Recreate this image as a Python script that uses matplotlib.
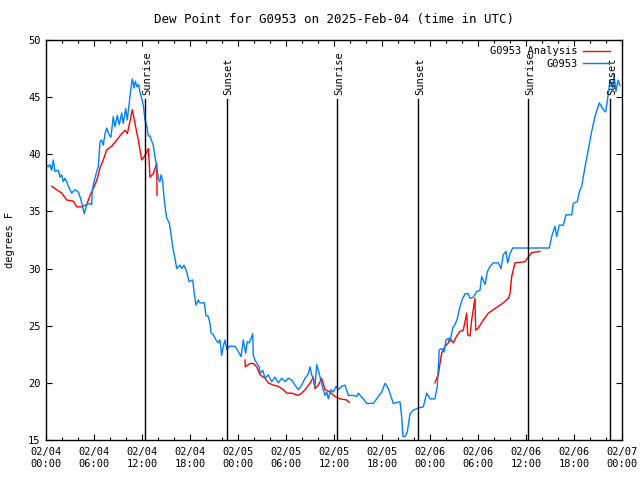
import numpy as np
import matplotlib
matplotlib.use("Agg")
import matplotlib.pyplot as plt

# hours since 2025-02-04 00:00 UTC, dew point in degrees F
obs_hours = [0.12, 0.29, 0.5, 0.71, 0.91, 1.12, 1.54, 1.75, 1.96, 2.16, 2.38, 2.59, 2.79, 3.0, 3.21,
             3.62, 4.04, 4.34, 4.59, 4.79, 5.09, 5.5, 5.71, 5.79, 6.04, 6.34, 6.54, 6.75, 6.96, 7.16,
             7.38, 7.59, 7.88, 8.12, 8.41, 8.62, 8.91, 9.16, 9.46, 9.66, 9.96, 10.16, 10.41, 10.59,
             10.79, 11.0, 11.16, 11.38, 11.59, 11.75, 12.0, 12.16, 12.38, 12.59, 12.79, 13.0, 13.4,
             13.62, 13.84, 14.04, 14.25, 14.38, 14.59, 14.66, 14.88, 15.09, 15.41, 15.59, 15.84,
             16.12, 16.34, 16.75, 16.96, 17.25, 17.59, 17.88, 18.34, 18.54, 18.75, 19.04, 19.25,
             19.79, 20.0, 20.29, 20.5, 20.62, 20.91, 21.25, 21.54, 21.75, 21.96, 22.16, 22.38, 22.59,
             22.91, 23.62, 23.91, 24.38, 24.66, 24.96, 25.16, 25.41, 25.71, 25.84, 25.91, 26.12,
             26.34, 26.66, 26.75, 27.09, 27.38, 27.79, 28.21, 28.62, 29.04, 29.46, 29.88, 30.29,
             30.71, 31.12, 31.54, 31.96, 32.38, 32.79, 33.0, 33.21, 33.41, 33.62, 33.84, 34.16,
             34.38, 34.66, 34.88, 35.09, 35.29, 35.62, 35.91, 36.25, 36.54, 36.96, 37.38, 37.79,
             38.41, 38.84, 39.04, 39.38, 39.66, 40.09, 40.91, 41.54, 41.96, 42.38, 42.79, 43.12,
             43.41, 44.25, 44.46, 44.62, 44.88, 45.16, 45.5, 45.91, 46.54, 47.16, 47.59, 48.0,
             48.62, 48.84, 48.91, 49.16, 49.46, 49.75, 50.0, 50.29, 50.5, 50.84, 51.12, 51.41,
             51.75, 52.09, 52.38, 52.79, 53.0, 53.41, 53.84, 54.25, 54.46, 54.88, 55.16, 55.5,
             55.91, 56.54, 56.88, 57.16, 57.5, 57.71, 58.0, 58.34, 62.91, 63.21, 63.62, 63.84,
             64.16, 64.66, 65.0, 65.71, 65.91, 66.41, 66.66, 66.96, 67.38, 67.79, 68.21, 68.62,
             69.16, 69.59, 69.96, 70.29, 70.5, 70.84, 71.0, 71.25, 71.5, 71.75]
obs_dewpt = [39.0, 38.9, 39.1, 38.6, 39.5, 38.5, 38.6, 38.0, 38.2, 37.6, 37.9, 37.6, 37.2, 36.9, 36.6,
             36.9, 36.7, 36.1, 35.4, 34.8, 35.6, 35.7, 35.6, 36.9, 37.7, 38.5, 38.9, 41.1, 41.25, 40.8,
             41.8, 42.3, 41.7, 41.5, 43.3, 42.4, 43.4, 42.6, 43.6, 42.7, 44.0, 43.0, 44.5, 45.6,
             46.6, 45.8, 46.4, 45.9, 46.1, 45.4, 44.8, 44.3, 43.0, 42.5, 41.6, 41.6, 40.8,
             39.8, 38.9, 37.9, 37.6, 38.2, 37.7, 36.9, 35.4, 34.4, 34.0, 33.2, 31.9,
             30.9, 30.0, 30.3, 30.0, 30.3, 29.7, 28.85, 29.0, 27.8, 26.8, 27.25, 27.0,
             27.0, 25.9, 25.8, 25.2, 24.4, 24.2, 23.75, 23.5, 23.75, 22.4, 23.2, 23.75, 22.9,
             23.2, 23.2, 22.9, 22.3, 23.75, 22.6, 23.6, 23.5, 24.05, 24.3, 22.4, 22.0,
             21.7, 21.4, 20.8, 21.1, 20.4, 20.7, 20.1, 20.5, 20.0, 20.4, 20.1, 20.4,
             20.25, 19.8, 19.4, 19.8, 20.4, 20.8, 21.4, 20.7, 20.4, 19.7, 21.6, 20.8,
             20.1, 19.4, 18.9, 19.2, 18.6, 19.4, 19.2, 19.7, 19.4, 19.7, 19.8, 18.9,
             18.9, 18.8, 19.1, 18.8, 18.6, 18.2, 18.2, 18.8, 19.2, 19.96, 19.5, 18.8,
             18.2, 18.35, 17.0, 15.3, 15.3, 15.7, 17.3, 17.6, 17.8, 17.9, 19.1, 18.6,
             18.6, 19.4, 19.7, 22.9, 23.0, 22.7, 23.75, 23.9, 23.6, 24.8, 25.1, 25.6,
             26.7, 27.4, 27.8, 27.8, 27.4, 27.5, 28.0, 28.1, 29.3, 28.6, 29.7, 30.2,
             30.5, 30.5, 30.0, 31.2, 31.5, 30.5, 31.3, 31.8, 31.8, 32.8, 33.7, 32.8,
             33.8, 33.8, 34.7, 34.7, 35.7, 35.85, 36.7, 37.2, 38.9, 40.4, 42.0, 43.3,
             44.5, 44.0, 43.7, 45.3, 46.5, 45.8, 47.0, 45.5, 46.5, 46.0]

ana1_hours = [0.71, 1.34, 1.96, 2.59, 3.41, 3.84, 4.46, 5.09, 5.5, 5.91, 6.34, 6.75, 7.16, 7.59,
              8.21, 8.84, 9.46, 9.88, 10.16, 10.5, 10.79, 11.12, 11.54, 11.96, 12.38, 12.79,
              13.0, 13.41, 13.84, 13.88]
ana1_dewpt = [37.2, 36.9, 36.6, 36.0, 35.9, 35.4, 35.4, 35.6, 36.4, 37.0, 37.7, 38.8, 39.5, 40.4,
              40.7, 41.25, 41.8, 42.1, 41.8, 42.9, 43.9, 42.7, 41.25, 39.5, 39.9, 40.5,
              38.0, 38.3, 39.2, 36.4]
ana2_hours = [24.88, 24.91, 25.5, 25.91, 26.34, 26.75, 27.38, 27.79, 28.41, 29.04, 29.66, 30.09,
              30.71, 31.54, 31.96, 32.38, 33.0, 33.41, 33.62, 34.04, 34.46, 34.88, 35.5, 36.12,
              36.75, 37.59, 37.91]
ana2_dewpt = [22.0, 21.4, 21.7, 21.7, 21.4, 20.7, 20.4, 20.0, 19.8, 19.7, 19.4, 19.1,
              19.1, 18.9, 19.1, 19.4, 19.96, 20.5, 19.5, 19.8, 20.4, 19.4, 19.2, 18.8,
              18.6, 18.5, 18.3]
ana3_hours = [48.62, 48.84, 49.04, 49.25, 49.46, 49.88, 50.29, 50.5, 50.91, 51.34, 51.75, 52.16,
              52.59, 52.71, 53.0, 53.21, 53.62, 53.71, 54.04, 54.66, 55.29, 55.91, 56.54, 57.16,
              57.79, 58.0, 58.21, 58.62, 59.88, 60.29, 60.71, 61.75]
ana3_dewpt = [20.0, 20.4, 20.7, 21.7, 22.6, 23.2, 23.5, 23.9, 23.5, 24.1, 24.5, 24.6,
              26.1, 24.2, 24.1, 25.5, 27.4, 24.6, 24.8, 25.5, 26.1, 26.4, 26.7, 27.0,
              27.4, 27.8, 29.3, 30.5, 30.6, 31.0, 31.4, 31.5]

sun_hours = [12.41, 22.59, 36.41, 46.54, 60.29, 70.54]
sun_labels = ['Sunrise', 'Sunset', 'Sunrise', 'Sunset', 'Sunrise', 'Sunset']

tick_hours = list(range(0, 73, 6))
tick_labels = ['02/04\n00:00', '02/04\n06:00', '02/04\n12:00', '02/04\n18:00',
               '02/05\n00:00', '02/05\n06:00', '02/05\n12:00', '02/05\n18:00',
               '02/06\n00:00', '02/06\n06:00', '02/06\n12:00', '02/06\n18:00',
               '02/07\n00:00']

plt.rcParams['font.family'] = 'DejaVu Sans Mono'
plt.rcParams['font.size'] = 7.5

fig = plt.figure(figsize=(6.4, 4.8), dpi=100)
ax = fig.add_axes([46/640, 40/480, 576/640, 400/480])

red = '#ff0000'
blue = '#0080ff'
ax.plot(ana1_hours, ana1_dewpt, color=red, lw=1.0, label='G0953 Analysis')
ax.plot(ana2_hours, ana2_dewpt, color=red, lw=1.0)
ax.plot(ana3_hours, ana3_dewpt, color=red, lw=1.0)
ax.plot(obs_hours, obs_dewpt, color=blue, lw=1.0, label='G0953')

for h, lab in zip(sun_hours, sun_labels):
    ax.plot([h, h], [15, 44.8], color='black', lw=1.0)
    ax.text(h + 0.2, 45.2, lab, rotation=90, ha='center', va='bottom')

ax.set_xlim(0, 72)
ax.set_ylim(15, 50)
ax.set_xticks(tick_hours)
ax.set_xticklabels(tick_labels)
ax.set_xticks(range(0, 73, 2), minor=True)
ax.set_yticks(range(15, 51, 5))
ax.tick_params(which='both', direction='in', top=True, right=True)
ax.tick_params(which='major', length=4, width=0.8, pad=4)
ax.tick_params(which='minor', length=2.5, width=0.8)
ax.tick_params(axis='x', which='major', pad=5)
for s in ax.spines.values():
    s.set_linewidth(1.0)

ax.set_ylabel('degrees F', labelpad=9)
ax.set_title('Dew Point for G0953 on 2025-Feb-04 (time in UTC)', pad=12)

handles, labels = ax.get_legend_handles_labels()
ax.legend(handles, labels, loc='upper right', bbox_to_anchor=(0.99, 1.0),
          frameon=False, markerfirst=False, handlelength=2.6, handletextpad=0.5,
          labelspacing=0.25, borderaxespad=0.2)

fig.savefig('out.png', dpi=100)
